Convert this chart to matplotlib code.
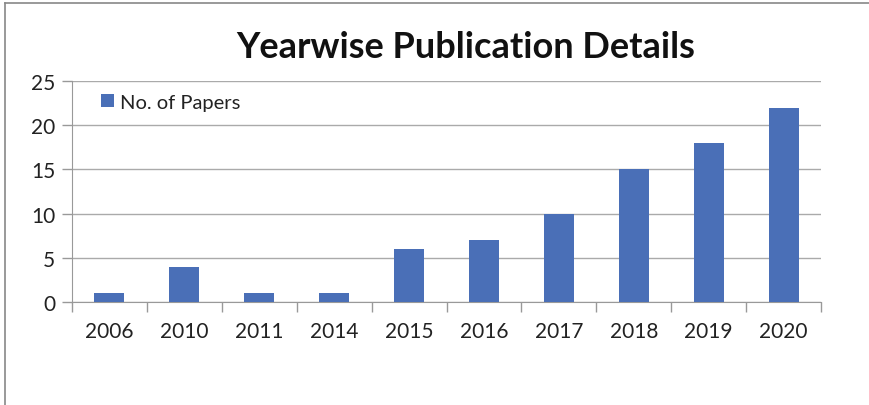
import matplotlib
matplotlib.use("Agg")
import matplotlib.pyplot as plt
from matplotlib.patches import Patch
from matplotlib.lines import Line2D

years = ["2006", "2010", "2011", "2014", "2015", "2016", "2017", "2018", "2019", "2020"]
papers = [1, 4, 1, 1, 6, 7, 10, 15, 18, 22]
yticks = [0, 5, 10, 15, 20, 25]

plt.rcParams['font.family'] = ['Lato', 'DejaVu Sans']

fig = plt.figure(figsize=(8.69, 4.06), dpi=100)
ax = fig.add_axes([72/869, 1-303/406, (821-72)/869, (303-82)/406])

x = list(range(len(years)))
bars = ax.bar(x, papers, width=0.4, color='#4a6fb7', zorder=3, label='No. of Papers')

ax.set_xlim(-0.5, len(years) - 0.5)
ax.set_ylim(0, 25)
ax.set_yticks(yticks)
ax.set_yticklabels([str(t) for t in yticks], fontsize=15, color='#222222')
ax.set_xticks(x)
ax.set_xticklabels(years, fontsize=15, color='#222222')
ax.tick_params(axis='x', length=0, pad=14)
ax.tick_params(axis='y', length=7, color='#999999', width=1, pad=5)
# minor ticks at category boundaries
ax.set_xticks([i - 0.5 for i in range(len(years) + 1)], minor=True)
ax.tick_params(axis='x', which='minor', length=7, color='#999999', width=1, direction='out')

ax.grid(axis='y', color='#aaaaaa', linewidth=1, zorder=0)
for s in ['top', 'right']:
    ax.spines[s].set_visible(False)
ax.spines['left'].set_color('#999999')
ax.spines['bottom'].set_color('#999999')

leg = ax.legend(handles=[Patch(facecolor='#4a6fb7', label='No. of Papers')],
                loc='upper left', bbox_to_anchor=(0.015, 1.025), frameon=False,
                fontsize=14.5, handlelength=0.65, handleheight=0.65, handletextpad=0.3)
for t in leg.get_texts():
    t.set_color('#222222')

fig.text(466/869, 1-47/406, "Yearwise Publication Details", ha='center', va='center',
         fontsize=26, fontweight='bold', color='#111111')

# outer border (left and top)
fig.add_artist(Line2D([5/869, 5/869], [0, 1-4/406], transform=fig.transFigure, color='#888888', lw=1.2))
fig.add_artist(Line2D([5/869, 1], [1-4/406, 1-4/406], transform=fig.transFigure, color='#888888', lw=1.2))

fig.savefig("out.png", dpi=100)
